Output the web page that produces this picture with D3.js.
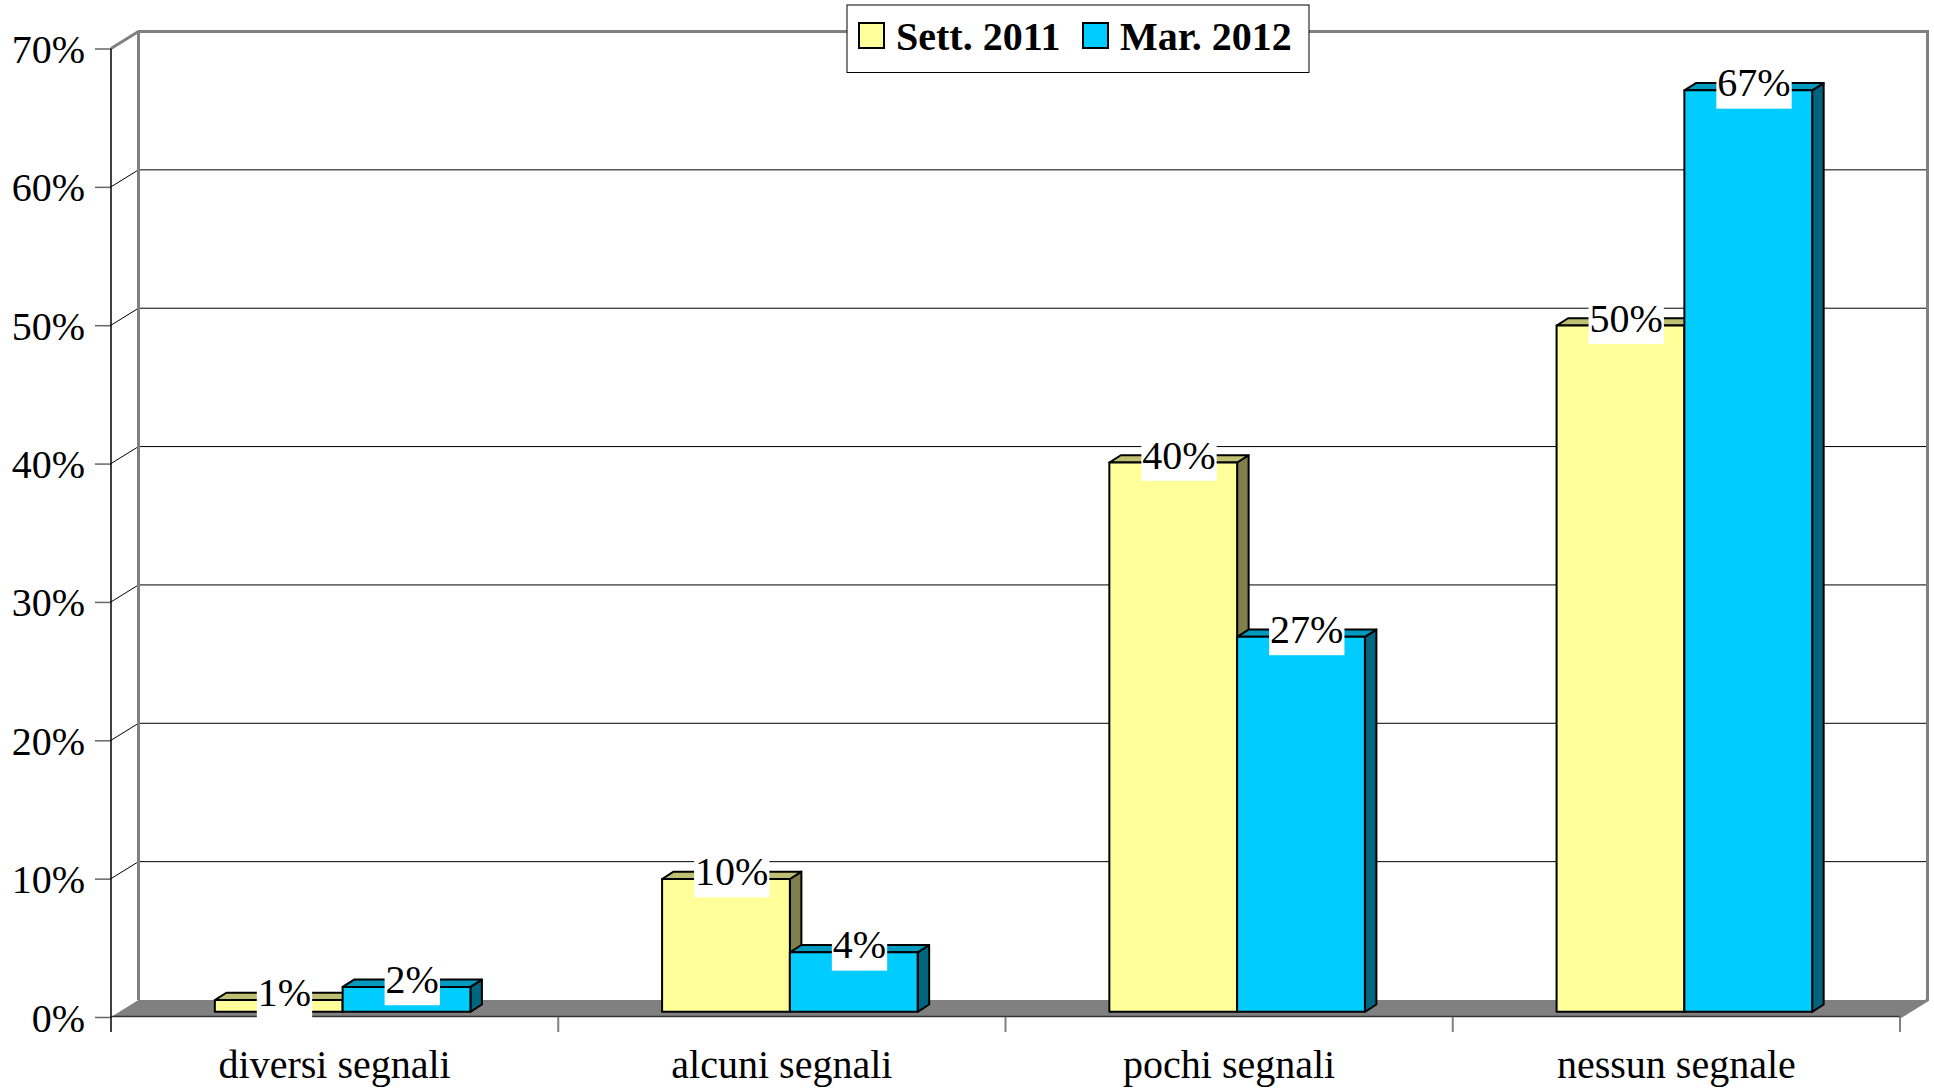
<!DOCTYPE html>
<html>
<head>
<meta charset="utf-8">
<script src="https://cdn.jsdelivr.net/npm/d3@7"></script>
<style>
    body { margin: 0; background: #fff; }
    svg { display: block; font-family: "Liberation Serif", "Times New Roman", serif; }
</style>
</head>
<body>
<svg id="chart"></svg>
<script>
// Dati
const categories = ["diversi segnali", "alcuni segnali", "pochi segnali", "nessun segnale"];
const seriesNames = ["Sett. 2011", "Mar. 2012"];
const sett2011 = [0.0085, 0.096, 0.397, 0.496];
const mar2012 = [0.018, 0.043, 0.271, 0.666];
const yTicks = [0, 0.1, 0.2, 0.3, 0.4, 0.5, 0.6, 0.7];

// Colori: fronte, sopra, lato
const colors = {
    "Sett. 2011": { front: "#FFFF99", top: "#BFBF73", side: "#80804D" },
    "Mar. 2012": { front: "#00CCFF", top: "#0099BF", side: "#006680" }
};

const width = 1934;
const height = 1091;

// Geometria del grafico 3D
const frontLeft = 111, frontRight = 1900;
const floorY = 1017, topY = 48.5;
const depthX = 27.5, depthY = -17;
const barOffX = 8, barOffY = -5.2;
const barDX = 11.5, barDY = -7.3;

const svg = d3.select("#chart")
    .attr("width", width)
    .attr("height", height);

const x0 = d3.scaleBand().domain(categories).range([frontLeft, frontRight]).padding(0);
const x1 = d3.scaleBand().domain(seriesNames).range([0, x0.bandwidth()])
    .paddingInner(0).paddingOuter(0.75);
const y = d3.scaleLinear().domain([0, 0.7]).range([floorY, topY]);

const backTop = y(0.7) + depthY;
const backBottom = floorY + depthY;

// Griglia (parete laterale + parete di fondo)
svg.append("g")
    .selectAll("path")
    .data(yTicks.filter(d => d > 0 && d < 0.7))
    .enter().append("path")
    .attr("d", d => `M${frontLeft},${y(d)}L${frontLeft + depthX},${y(d) + depthY}L${frontRight + depthX},${y(d) + depthY}`)
    .attr("fill", "none")
    .attr("stroke", "#000")
    .attr("stroke-width", 1);

// Pavimento
svg.append("path")
    .attr("d", `M${frontLeft},${floorY}L${frontRight},${floorY}L${frontRight + depthX},${backBottom}L${frontLeft + depthX},${backBottom}Z`)
    .attr("fill", "#808080");

svg.append("line")
    .attr("x1", frontLeft).attr("x2", frontRight)
    .attr("y1", floorY - 0.5).attr("y2", floorY - 0.5)
    .attr("stroke", "#333").attr("stroke-width", 1.5);

// Bordi delle pareti
svg.append("path")
    .attr("d", `M${frontLeft},${y(0.7)}L${frontLeft + depthX},${backTop}L${frontRight + depthX},${backTop}L${frontRight + depthX},${backBottom}L${frontRight},${floorY}`)
    .attr("fill", "none")
    .attr("stroke", "#808080")
    .attr("stroke-width", 3);

svg.append("line")
    .attr("x1", frontLeft + depthX).attr("x2", frontLeft + depthX)
    .attr("y1", backTop).attr("y2", backBottom)
    .attr("stroke", "#808080").attr("stroke-width", 3);

// Tacche delle categorie
svg.append("g")
    .selectAll("line")
    .data(categories.slice(1).map(c => x0(c)).concat([frontRight]))
    .enter().append("line")
    .attr("x1", d => d).attr("x2", d => d)
    .attr("y1", floorY).attr("y2", floorY + 15)
    .attr("stroke", "#808080")
    .attr("stroke-width", 2);

// Asse Y
const yAxis = svg.append("g")
    .attr("transform", `translate(${frontLeft},0)`)
    .call(d3.axisLeft(y).tickValues(yTicks).tickFormat(d3.format(".0%")).tickSize(16).tickPadding(10));

yAxis.select(".domain").remove();
yAxis.selectAll(".tick line").attr("stroke", "#666").attr("stroke-width", 1.5);
yAxis.selectAll(".tick text")
    .attr("dy", "0.35em")
    .attr("fill", "#000")
    .style("font-family", "Liberation Serif")
    .style("font-size", "40px");

svg.append("line")
    .attr("x1", frontLeft).attr("x2", frontLeft)
    .attr("y1", y(0.7)).attr("y2", floorY + 15)
    .attr("stroke", "#000").attr("stroke-width", 1.5);

// Asse X (etichette)
const xAxis = svg.append("g")
    .attr("transform", `translate(0,${floorY})`)
    .call(d3.axisBottom(x0).tickSize(0).tickPadding(33));

xAxis.select(".domain").remove();
xAxis.selectAll(".tick text")
    .attr("fill", "#000")
    .style("font-family", "Liberation Serif")
    .style("font-size", "40px");

// Barre 3D
const barData = [];
categories.forEach((c, i) => {
    barData.push({ cat: c, series: seriesNames[0], value: sett2011[i] });
    barData.push({ cat: c, series: seriesNames[1], value: mar2012[i] });
});

const bw = x1.bandwidth();

const bars = svg.append("g")
    .selectAll("g")
    .data(barData)
    .enter().append("g");

bars.each(function(d) {
    const g = d3.select(this);
    const xl = x0(d.cat) + x1(d.series) + barOffX;
    const xr = xl + bw;
    const yt = y(d.value) + barOffY;
    const yb = floorY + barOffY;
    const col = colors[d.series];

    g.append("path")
        .attr("d", `M${xr},${yt}L${xr + barDX},${yt + barDY}L${xr + barDX},${yb + barDY}L${xr},${yb}Z`)
        .attr("fill", col.side);
    g.append("path")
        .attr("d", `M${xl},${yt}L${xl + barDX},${yt + barDY}L${xr + barDX},${yt + barDY}L${xr},${yt}Z`)
        .attr("fill", col.top);
    g.append("rect")
        .attr("x", xl).attr("y", yt)
        .attr("width", bw).attr("height", yb - yt)
        .attr("fill", col.front);
    g.selectAll("path, rect")
        .attr("stroke", "#000")
        .attr("stroke-width", 2)
        .attr("stroke-linejoin", "round");
});

// Etichette dei valori
const labels = svg.append("g")
    .selectAll("g")
    .data(barData)
    .enter().append("g")
    .attr("transform", d => {
        const cx = x0(d.cat) + x1(d.series) + barOffX + bw / 2 + barDX / 2;
        const cy = y(d.value) + barOffY + barDY / 2;
        return `translate(${cx},${cy})`;
    });

labels.append("rect").attr("fill", "#fff");
labels.append("text")
    .attr("text-anchor", "middle")
    .attr("y", 9.75)
    .attr("fill", "#000")
    .style("font-size", "40px")
    .text(d => d3.format(".0%")(d.value));

labels.each(function() {
    const g = d3.select(this);
    const tw = g.select("text").node().getComputedTextLength();
    g.select("rect")
        .attr("x", -tw / 2 - 1).attr("y", -22)
        .attr("width", tw + 2).attr("height", 44);
});

// Legenda
const legend = svg.append("g");

legend.append("rect")
    .attr("x", 847).attr("y", 5)
    .attr("width", 462).attr("height", 67.5)
    .attr("fill", "#fff")
    .attr("stroke", "#000")
    .attr("stroke-width", 1);

const legendX = [859, 1083];

legend.selectAll("rect.swatch")
    .data(seriesNames)
    .enter().append("rect")
    .attr("class", "swatch")
    .attr("x", (d, i) => legendX[i])
    .attr("y", 23)
    .attr("width", 25).attr("height", 25)
    .attr("fill", d => colors[d].front)
    .attr("stroke", "#000")
    .attr("stroke-width", 2);

legend.selectAll("text")
    .data(seriesNames)
    .enter().append("text")
    .attr("x", (d, i) => legendX[i] + 37)
    .attr("y", 50)
    .attr("fill", "#000")
    .style("font-size", "40px")
    .style("font-weight", "bold")
    .text(d => d);
</script>
</body>
</html>
